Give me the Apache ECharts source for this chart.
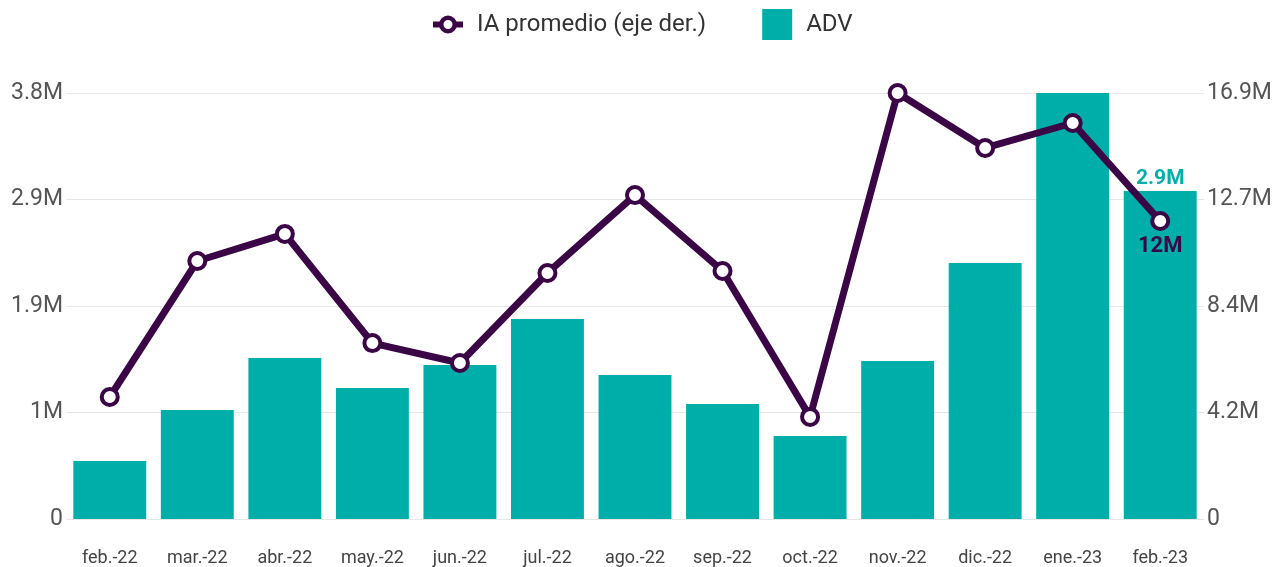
<!DOCTYPE html>
<html>
<head>
<meta charset="utf-8">
<script src="https://cdn.jsdelivr.net/npm/echarts@6/dist/echarts.min.js"></script>
<style>
  html, body { margin: 0; padding: 0; background: #fff; }
  #chart { width: 1278px; height: 567px; }
</style>
</head>
<body>
<div id="chart"></div>
<script>
  var months = ['feb.-22', 'mar.-22', 'abr.-22', 'may.-22', 'jun.-22', 'jul.-22', 'ago.-22',
                'sep.-22', 'oct.-22', 'nov.-22', 'dic.-22', 'ene.-23', 'feb.-23'];
  // ADV (eje izq.)
  var adv = [517000, 972000, 1436000, 1169000, 1374000, 1784000, 1285000,
             1026000, 740000, 1409000, 2284000, 3800000, 2926000];
  // IA promedio (eje der.)
  var iaProm = [4840000, 10235000, 11310000, 6980000, 6190000, 9760000, 12850000,
                9840000, 4050000, 16900000, 14720000, 15710000, 11820000];
  var leftTicks = ['0', '1M', '1.9M', '2.9M', '3.8M'];
  var rightTicks = ['0', '4.2M', '8.4M', '12.7M', '16.9M'];
  var lastAdvLabel = '2.9M';
  var lastIaLabel = '12M';

  var TEAL = '#00aea9';
  var PURPLE = '#3a0645';
  var FONT = 'Roboto, "Noto Sans", sans-serif';

  // legend icon: thick line stubs with a ring in the middle
  var RING_ICON = 'path://M0,7 L8,7 L8,13 L0,13 Z M22,7 L30,7 L30,13 L22,13 Z' +
    ' M6,10 A9,9 0 1,1 24,10 A9,9 0 1,1 6,10 Z' +
    ' M10.5,10 A4.5,4.5 0 1,0 19.5,10 A4.5,4.5 0 1,0 10.5,10 Z';

  var last = months.length - 1;
  var barData = adv.map(function (v, i) {
    if (i !== last) { return v; }
    return {
      value: v,
      label: {
        show: true, position: 'top', distance: 2,
        color: TEAL, fontWeight: 'bold', fontSize: 21, fontFamily: FONT,
        formatter: function () { return lastAdvLabel; }
      }
    };
  });
  var lineData = iaProm.map(function (v, i) {
    if (i !== last) { return v; }
    return {
      value: v,
      label: {
        show: true, position: 'bottom', distance: 4,
        color: PURPLE, fontWeight: 'bold', fontSize: 22, fontFamily: FONT,
        formatter: function () { return lastIaLabel; }
      }
    };
  });

  var chart = echarts.init(document.getElementById('chart'));
  chart.setOption({
    animation: false,
    textStyle: { fontFamily: FONT },
    legend: {
      top: 4,
      left: 428,
      itemGap: 56,
      itemWidth: 30,
      itemHeight: 31,
      symbolKeepAspect: true,
      textStyle: { color: '#333', fontSize: 24, fontFamily: FONT, padding: [0, 0, 0, 9] },
      data: [
        { name: 'IA promedio (eje der.)', icon: RING_ICON, itemStyle: { color: PURPLE, borderWidth: 0 } },
        { name: 'ADV', icon: 'rect', itemStyle: { color: TEAL } }
      ]
    },
    grid: { left: 66, right: 74, top: 93, bottom: 48, containLabel: false },
    xAxis: {
      type: 'category',
      data: months,
      axisLine: { show: false },
      axisTick: { show: false },
      axisLabel: { color: '#444', fontSize: 18, margin: 30, fontFamily: FONT }
    },
    yAxis: [
      {
        type: 'value', min: 0, max: 3800000, interval: 950000,
        axisLine: { show: false }, axisTick: { show: false },
        axisLabel: {
          color: '#555', fontSize: 23, margin: 3, fontFamily: FONT,
          formatter: function (v, i) { return leftTicks[i]; }
        },
        splitLine: { lineStyle: { color: '#e6e6e6', width: 1 } }
      },
      {
        type: 'value', min: 0, max: 16900000, interval: 4225000,
        axisLine: { show: false }, axisTick: { show: false },
        axisLabel: {
          color: '#555', fontSize: 23, margin: 3, fontFamily: FONT,
          formatter: function (v, i) { return rightTicks[i]; }
        },
        splitLine: { show: false }
      }
    ],
    series: [
      {
        name: 'ADV',
        type: 'bar',
        yAxisIndex: 0,
        barCategoryGap: '16.7%',
        itemStyle: { color: TEAL },
        data: barData,
        z: 1
      },
      {
        name: 'IA promedio (eje der.)',
        type: 'line',
        yAxisIndex: 1,
        symbol: 'circle',
        symbolSize: 16,
        lineStyle: { color: PURPLE, width: 7 },
        itemStyle: { color: '#fff', borderColor: PURPLE, borderWidth: 4 },
        data: lineData,
        z: 3
      }
    ]
  });
</script>
</body>
</html>
